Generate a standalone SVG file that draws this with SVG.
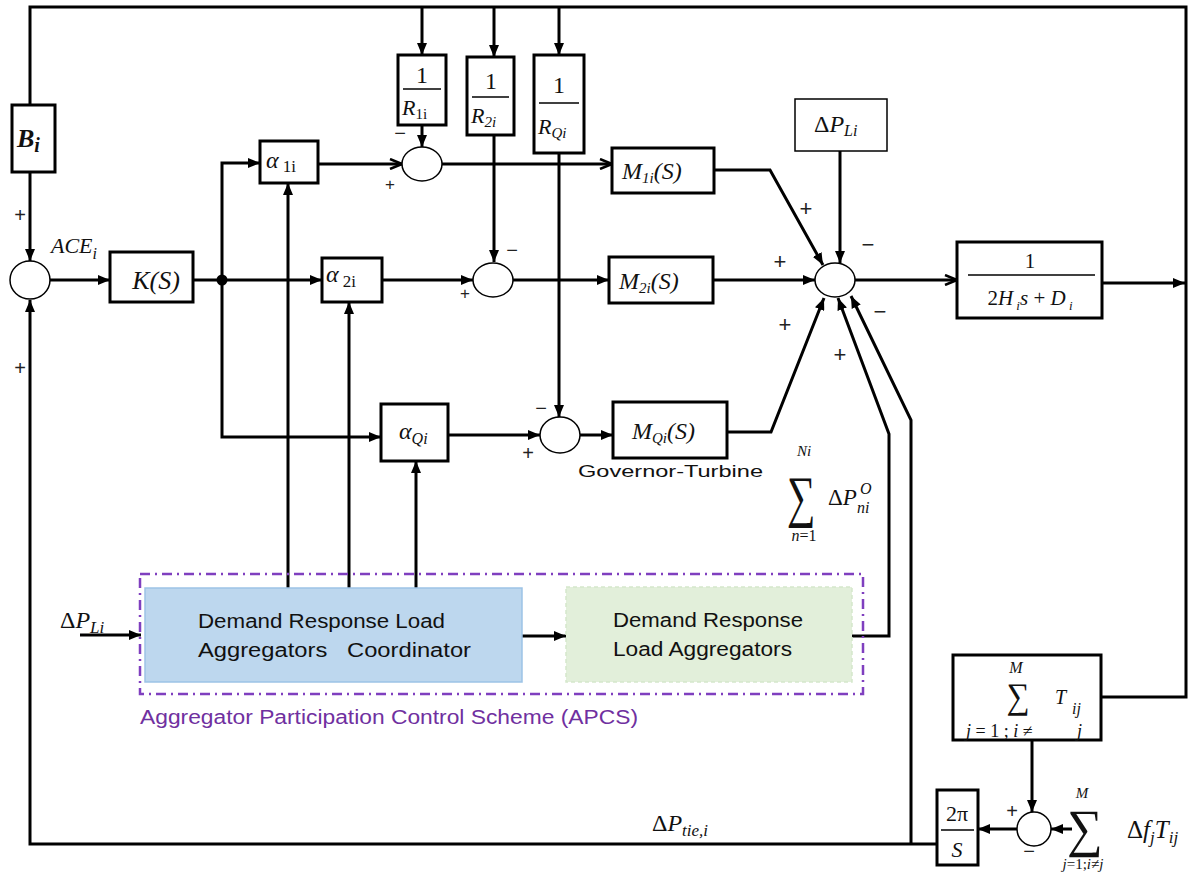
<svg xmlns="http://www.w3.org/2000/svg" width="1198" height="873" viewBox="0 0 1198 873">
<style>
.box{fill:#fff;stroke:#000;stroke-width:3}
.sum{fill:#fff;stroke:#000;stroke-width:1.5}
.ln{fill:none;stroke:#000;stroke-width:3}
.fr{stroke:#000;stroke-width:1.5}
.m{font-family:"Liberation Serif",serif;font-style:italic;fill:#111}
.r{font-family:"Liberation Serif",serif;fill:#111}
.s{font-family:"Liberation Sans",Arial,sans-serif;fill:#111;white-space:pre}
.sg{font-family:"Liberation Sans",Arial,sans-serif;fill:#222;text-anchor:middle}
</style>
<defs>
<marker id="a" viewBox="0 0 12 10" refX="12" refY="5" markerWidth="12" markerHeight="10" markerUnits="userSpaceOnUse" orient="auto"><path d="M0,0 L12,5 L0,10 z" fill="#000"/></marker>
<marker id="o" viewBox="0 0 14 12" refX="13" refY="6" markerWidth="14" markerHeight="12" markerUnits="userSpaceOnUse" orient="auto"><path d="M1,1 L13,6 L1,11" fill="none" stroke="#000" stroke-width="2.5"/></marker>
</defs>
<rect width="1198" height="873" fill="#fff"/>

<g id="connectors">
<path class="ln" d="M1101 697 H1186 V7 H30 V105"/>
<path class="ln" d="M1102 283 H1185" marker-end="url(#a)"/>
<path class="ln" d="M422 7 V55" marker-end="url(#a)"/>
<path class="ln" d="M494 7 V57" marker-end="url(#a)"/>
<path class="ln" d="M559 7 V55" marker-end="url(#a)"/>
<path class="ln" d="M30 172 V261" marker-end="url(#a)"/>
<path class="ln" d="M50 280 H110" marker-end="url(#a)"/>
<path class="ln" d="M193 280 H322" marker-end="url(#a)"/>
<path class="ln" d="M222 280 V163 H260" marker-end="url(#a)"/>
<path class="ln" d="M222 280 V437 H381" marker-end="url(#a)"/>
<path class="ln" d="M318 164 H402" marker-end="url(#o)"/>
<path class="ln" d="M422 125 V147" marker-end="url(#a)"/>
<path class="ln" d="M442 164 H612" marker-end="url(#o)"/>
<path class="ln" d="M382 280 H473" marker-end="url(#a)"/>
<path class="ln" d="M494 135 V262" marker-end="url(#a)"/>
<path class="ln" d="M513 280 H609" marker-end="url(#a)"/>
<path class="ln" d="M559 153 V417" marker-end="url(#a)"/>
<path class="ln" d="M448 435 H540" marker-end="url(#a)"/>
<path class="ln" d="M580 435 H613" marker-end="url(#a)"/>
<path class="ln" d="M714 170 H770 L823 265" marker-end="url(#a)"/>
<path class="ln" d="M713 280 H815" marker-end="url(#a)"/>
<path class="ln" d="M840 151 V263" marker-end="url(#a)"/>
<path class="ln" d="M727 432 H771 L824 298" marker-end="url(#a)"/>
<path class="ln" d="M852 636 H889 V434 L838 298" marker-end="url(#a)"/>
<path class="ln" d="M911 844 V420 L851 296" marker-end="url(#a)"/>
<path class="ln" d="M855 280 H957" marker-end="url(#o)"/>
<path class="ln" d="M937 844 H30 V300" marker-end="url(#a)"/>
<path class="ln" d="M1017 829 H978" marker-end="url(#a)"/>
<path class="ln" d="M1032 740 V812" marker-end="url(#a)"/>
<path class="ln" d="M1072 829 H1051" marker-end="url(#a)"/>
<path class="ln" d="M288 588 V183" marker-end="url(#a)"/>
<path class="ln" d="M349 588 V302" marker-end="url(#a)"/>
<path class="ln" d="M416 588 V461" marker-end="url(#a)"/>
<path class="ln" d="M80 635 H141" marker-end="url(#a)"/>
<path class="ln" d="M522 636 H566" marker-end="url(#a)"/>
<circle cx="222" cy="280" r="5.5" fill="#000"/>
</g>

<g id="apcs">
<rect x="140" y="574" width="723" height="120" fill="none" stroke="#7f3fbf" stroke-width="2.5" stroke-dasharray="10,5,2,5"/>
<text class="s" x="140" y="724" font-size="20" style="fill:#7030a0" textLength="498" lengthAdjust="spacingAndGlyphs">Aggregator Participation Control Scheme (APCS)</text>
</g>

<g id="dr_coordinator">
<rect x="145" y="588" width="377" height="94" fill="#bdd7ee" stroke="#9dc3e6" stroke-width="1.5"/>
<text class="s" x="198" y="628" font-size="20" textLength="247" lengthAdjust="spacingAndGlyphs">Demand Response Load</text>
<text class="s" x="198" y="657" font-size="20" textLength="273" lengthAdjust="spacingAndGlyphs">Aggregators   Coordinator</text>
</g>

<g id="dr_aggregators">
<rect x="566" y="587" width="286" height="95" fill="#e2efda" stroke="#d5e8cc" stroke-width="1.5" stroke-dasharray="4,3"/>
<text class="s" x="613" y="627" font-size="20" textLength="190" lengthAdjust="spacingAndGlyphs">Demand Response</text>
<text class="s" x="613" y="656" font-size="20" textLength="179" lengthAdjust="spacingAndGlyphs">Load Aggregators</text>
</g>

<g id="Bi">
<rect class="box" x="12" y="105" width="43" height="67"/>
<text class="m" x="17" y="147" font-size="26" font-weight="bold">B<tspan font-size="20" dy="5">i</tspan></text>
</g>

<g id="sum_ace">
<ellipse class="sum" cx="30" cy="280" rx="20" ry="19"/>
<text class="sg" x="20" y="222" font-size="20">+</text>
<text class="sg" x="20" y="375" font-size="20">+</text>
<text class="m" x="51" y="253" font-size="22">ACE<tspan font-size="16" dy="6">i</tspan></text>
</g>

<g id="K">
<rect class="box" x="110" y="252" width="83" height="50"/>
<text class="m" x="156" y="289" font-size="26" text-anchor="middle">K(S)</text>
</g>

<g id="alpha1">
<rect class="box" x="260" y="141" width="58" height="42"/>
<text class="m" x="266" y="168" font-size="24">α<tspan class="r" font-style="normal" font-size="17" dy="4"> 1i</tspan></text>
</g>

<g id="alpha2">
<rect class="box" x="322" y="258" width="60" height="44"/>
<text class="m" x="326" y="282" font-size="24">α<tspan class="r" font-style="normal" font-size="17" dy="5"> 2i</tspan></text>
</g>

<g id="alphaQ">
<rect class="box" x="381" y="404" width="67" height="57"/>
<text class="m" x="399" y="439" font-size="24">α<tspan font-size="16" dy="5">Qi</tspan></text>
</g>

<g id="R1">
<rect class="box" x="398" y="55" width="48" height="70"/>
<text class="r" x="422" y="83" font-size="24" text-anchor="middle">1</text>
<line class="fr" x1="403" y1="89" x2="441" y2="89"/>
<text class="m" x="402" y="115" font-size="22">R<tspan class="r" font-style="normal" font-size="15" dy="4">1i</tspan></text>
</g>

<g id="R2">
<rect class="box" x="467" y="57" width="47" height="78"/>
<text class="r" x="491" y="89" font-size="24" text-anchor="middle">1</text>
<line class="fr" x1="472" y1="97" x2="509" y2="97"/>
<text class="m" x="471" y="123" font-size="22">R<tspan font-size="15" dy="4">2i</tspan></text>
</g>

<g id="RQ">
<rect class="box" x="534" y="55" width="50" height="98"/>
<text class="r" x="559" y="93" font-size="24" text-anchor="middle">1</text>
<line class="fr" x1="539" y1="103" x2="579" y2="103"/>
<text class="m" x="538" y="134" font-size="22">R<tspan font-size="15" dy="4">Qi</tspan></text>
</g>

<g id="sum1">
<ellipse class="sum" cx="422" cy="164" rx="20" ry="17"/>
<text class="sg" x="400" y="140" font-size="20">−</text>
<text class="sg" x="390" y="190" font-size="17">+</text>
</g>

<g id="sum2">
<ellipse class="sum" cx="493" cy="280" rx="20" ry="17"/>
<text class="sg" x="512" y="257" font-size="20">−</text>
<text class="sg" x="465" y="299" font-size="17">+</text>
</g>

<g id="sumQ">
<ellipse class="sum" cx="560" cy="435" rx="20" ry="18"/>
<text class="sg" x="541" y="415" font-size="20">−</text>
<text class="sg" x="528" y="460" font-size="20">+</text>
</g>

<g id="M1">
<rect class="box" x="612" y="148" width="102" height="45"/>
<text class="m" x="622" y="179" font-size="24">M<tspan font-size="15" dy="4">1i</tspan><tspan dy="-4">(S)</tspan></text>
</g>

<g id="M2">
<rect class="box" x="609" y="257" width="104" height="46"/>
<text class="m" x="619" y="289" font-size="24">M<tspan font-size="15" dy="4">2i</tspan><tspan dy="-4">(S)</tspan></text>
</g>

<g id="MQ">
<rect class="box" x="613" y="402" width="114" height="56"/>
<text class="m" x="632" y="439" font-size="24">M<tspan font-size="15" dy="4">Qi</tspan><tspan dy="-4">(S)</tspan></text>
<text class="s" x="578" y="477" font-size="17" textLength="185" lengthAdjust="spacingAndGlyphs">Governor-Turbine</text>
</g>

<g id="dPL">
<rect x="795" y="99" width="92" height="52" fill="#fff" stroke="#000" stroke-width="1.5"/>
<text class="m" x="814" y="132" font-size="24"><tspan font-style="normal">Δ</tspan>P<tspan font-size="16" dy="4">Li</tspan></text>
</g>

<g id="sum_main">
<ellipse class="sum" cx="835" cy="280" rx="20" ry="17"/>
<text class="sg" x="806" y="216" font-size="22">+</text>
<text class="sg" x="780" y="269" font-size="22">+</text>
<text class="sg" x="868" y="252" font-size="22">−</text>
<text class="sg" x="785" y="332" font-size="22">+</text>
<text class="sg" x="840" y="362" font-size="22">+</text>
<text class="sg" x="880" y="319" font-size="22">−</text>
<text class="m" x="804" y="456" font-size="15" text-anchor="middle">Ni</text>
<text class="r" font-size="50" text-anchor="middle" transform="translate(801,516) scale(0.8,1.15)">∑</text>
<text class="m" x="828" y="505" font-size="23"><tspan font-style="normal">Δ</tspan>P</text>
<text class="m" x="860" y="494" font-size="16">O</text>
<text class="m" x="857" y="513" font-size="16">ni</text>
<text class="m" x="804" y="541" font-size="16" text-anchor="middle">n<tspan class="r" font-style="normal">=1</tspan></text>
</g>

<g id="G">
<rect class="box" x="957" y="242" width="145" height="76"/>
<text class="r" x="1030" y="268" font-size="21" text-anchor="middle">1</text>
<line class="fr" x1="968" y1="275" x2="1095" y2="275"/>
<text class="m" x="1030" y="305" font-size="21" text-anchor="middle"><tspan font-style="normal">2</tspan>H<tspan font-size="13" dy="5"> i</tspan><tspan dy="-5">s </tspan><tspan font-style="normal">+ </tspan>D<tspan font-size="13" dy="5"> i</tspan></text>
</g>

<g id="Tij">
<rect class="box" x="953" y="655" width="148" height="85"/>
<text class="m" x="1016" y="673" font-size="16" text-anchor="middle">M</text>
<text class="r" font-size="36" text-anchor="middle" transform="translate(1018,708) scale(0.9,1)">∑</text>
<text class="m" x="1055" y="704" font-size="20">T</text>
<text class="m" x="1072" y="714" font-size="16">ij</text>
<text class="m" x="966" y="737" font-size="18">j<tspan font-style="normal"> = 1 ; </tspan>i<tspan font-style="normal"> ≠</tspan></text>
<text class="m" x="1077" y="737" font-size="18">j</text>
</g>

<g id="sum_tie">
<ellipse class="sum" cx="1034" cy="829" rx="17" ry="17"/>
<text class="sg" x="1012" y="818" font-size="20">+</text>
<text class="sg" x="1029" y="858" font-size="20">−</text>
<text class="m" x="1082" y="798" font-size="15" text-anchor="middle">M</text>
<text class="r" font-size="50" text-anchor="middle" transform="translate(1085,846) scale(1,1.05)">∑</text>
<text class="m" x="1083" y="869" font-size="15" text-anchor="middle">j<tspan font-style="normal">=1;</tspan>i<tspan font-style="normal">≠</tspan>j</text>
<text class="m" x="1127" y="838" font-size="25"><tspan font-style="normal">Δ</tspan>f<tspan font-size="17" dy="5">j</tspan><tspan dy="-5">T</tspan><tspan font-size="17" dy="5">ij</tspan></text>
</g>

<g id="int">
<rect class="box" x="937" y="790" width="41" height="75"/>
<text class="r" x="957" y="821" font-size="22" text-anchor="middle">2π</text>
<line class="fr" x1="941" y1="830" x2="974" y2="830"/>
<text class="m" x="957" y="857" font-size="22" text-anchor="middle">S</text>
</g>

<g id="labels">
<text class="m" x="652" y="831" font-size="24"><tspan font-style="normal">Δ</tspan>P<tspan font-size="17" dy="5">tie,i</tspan></text>
<text class="m" x="60" y="628" font-size="24"><tspan font-style="normal">Δ</tspan>P<tspan font-size="17" dy="5">Li</tspan></text>
</g>
</svg>
